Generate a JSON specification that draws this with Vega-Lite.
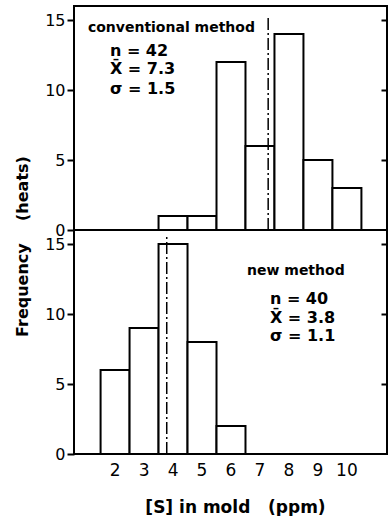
{
  "$schema": "https://vega.github.io/schema/vega-lite/v6.json",
  "background": "white",
  "padding": {"left": 13, "top": 5, "right": 0, "bottom": 0},
  "spacing": 0,
  "bounds": "flush",
  "config": {
    "view": {"stroke": "black", "strokeWidth": 2},
    "font": "DejaVu Sans",
    "axis": {"grid": false, "domain": false, "tickColor": "black", "labelColor": "black", "titleColor": "black"}
  },
  "datasets": {
    "conv": [
      {"lo": 3.5, "hi": 4.5, "n": 1},
      {"lo": 4.5, "hi": 5.5, "n": 1},
      {"lo": 5.5, "hi": 6.5, "n": 12},
      {"lo": 6.5, "hi": 7.5, "n": 6},
      {"lo": 7.5, "hi": 8.5, "n": 14},
      {"lo": 8.5, "hi": 9.5, "n": 5},
      {"lo": 9.5, "hi": 10.5, "n": 3}
    ],
    "new": [
      {"lo": 1.5, "hi": 2.5, "n": 6},
      {"lo": 2.5, "hi": 3.5, "n": 9},
      {"lo": 3.5, "hi": 4.5, "n": 15},
      {"lo": 4.5, "hi": 5.5, "n": 8},
      {"lo": 5.5, "hi": 6.5, "n": 2}
    ]
  },
  "vconcat": [
    {
      "width": 313,
      "height": 224,
      "data": {"name": "conv"},
      "resolve": {"axis": {"y": "independent"}},
      "layer": [
        {
          "mark": {"type": "bar", "fill": "white", "stroke": "black", "strokeWidth": 2, "binSpacing": 0},
          "encoding": {
            "x": {"field": "lo", "type": "quantitative", "bin": "binned", "scale": {"domain": [0.6, 11.4], "nice": false, "zero": false}, "axis": null},
            "x2": {"field": "hi"},
            "y": {"field": "n", "type": "quantitative", "scale": {"domain": [0, 16], "nice": false},
              "axis": {"orient": "left", "values": [0, 5, 10, 15], "tickSize": 7, "tickWidth": 2, "labelFontSize": 16, "labelPadding": 2,
                "title": "Frequency\u00a0\u00a0\u00a0\u00a0(heats)", "titleFontSize": 16, "titleFontWeight": "bold", "titleX": -52, "titleY": 240, "titleAlign": "center", "titleBaseline": "middle", "titleAngle": -90}}
          }
        },
        {
          "data": {"values": [{}]},
          "mark": {"type": "rule", "stroke": "black", "strokeWidth": 1.5, "strokeDash": [12, 3, 2, 3]},
          "encoding": {
            "x": {"datum": 7.3, "type": "quantitative", "axis": null},
            "y": {"datum": 0, "type": "quantitative", "axis": {"orient": "right", "values": [5, 10, 15], "labels": false, "tickSize": -6, "tickWidth": 2, "title": null}},
            "y2": {"datum": 15.3}
          }
        },
        {
          "data": {"values": [{}]},
          "mark": {"type": "text", "align": "left", "baseline": "middle", "fontSize": 14, "fontWeight": "bold"},
          "encoding": {"x": {"datum": 1.08, "type": "quantitative", "axis": null}, "y": {"datum": 14.4, "type": "quantitative", "axis": null}, "text": {"value": "conventional method"}}
        },
        {
          "data": {"values": [{}]},
          "mark": {"type": "text", "align": "left", "baseline": "middle", "fontSize": 16, "fontWeight": "bold"},
          "encoding": {"x": {"datum": 1.84, "type": "quantitative", "axis": null}, "y": {"datum": 12.8, "type": "quantitative", "axis": null}, "text": {"value": "n = 42"}}
        },
        {
          "data": {"values": [{}]},
          "mark": {"type": "text", "align": "left", "baseline": "middle", "fontSize": 16, "fontWeight": "bold"},
          "encoding": {"x": {"datum": 1.84, "type": "quantitative", "axis": null}, "y": {"datum": 11.5, "type": "quantitative", "axis": null}, "text": {"value": "X̄ = 7.3"}}
        },
        {
          "data": {"values": [{}]},
          "mark": {"type": "text", "align": "left", "baseline": "middle", "fontSize": 16, "fontWeight": "bold"},
          "encoding": {"x": {"datum": 1.84, "type": "quantitative", "axis": null}, "y": {"datum": 10.1, "type": "quantitative", "axis": null}, "text": {"value": "σ = 1.5"}}
        }
      ]
    },
    {
      "width": 313,
      "height": 224,
      "data": {"name": "new"},
      "resolve": {"axis": {"y": "independent"}},
      "layer": [
        {
          "mark": {"type": "bar", "fill": "white", "stroke": "black", "strokeWidth": 2, "binSpacing": 0},
          "encoding": {
            "x": {"field": "lo", "type": "quantitative", "bin": "binned", "scale": {"domain": [0.6, 11.4], "nice": false, "zero": false},
              "axis": {"values": [2, 3, 4, 5, 6, 7, 8, 9, 10], "ticks": false, "labelFontSize": 17, "labelPadding": 8, "labelFlush": false,
                "title": "[S] in mold\u00a0\u00a0\u00a0(ppm)", "titleFontSize": 17, "titleFontWeight": "bold", "titlePadding": 21, "titleX": 161}},
            "x2": {"field": "hi"},
            "y": {"field": "n", "type": "quantitative", "scale": {"domain": [0, 16], "nice": false},
              "axis": {"orient": "left", "values": [0, 5, 10, 15], "tickSize": 7, "tickWidth": 2, "labelFontSize": 16, "labelPadding": 2, "title": null}}
          }
        },
        {
          "data": {"values": [{}]},
          "mark": {"type": "rule", "stroke": "black", "strokeWidth": 1.5, "strokeDash": [12, 3, 2, 3]},
          "encoding": {
            "x": {"datum": 3.8, "type": "quantitative", "axis": {"values": [2, 3, 4, 5, 6, 7, 8, 9, 10], "ticks": false, "labelFontSize": 17, "labelPadding": 8, "labelFlush": false,
                "title": "[S] in mold\u00a0\u00a0\u00a0(ppm)", "titleFontSize": 17, "titleFontWeight": "bold", "titlePadding": 21, "titleX": 161}},
            "y": {"datum": 0, "type": "quantitative", "axis": {"orient": "right", "values": [5, 10, 15], "labels": false, "tickSize": -6, "tickWidth": 2, "title": null}},
            "y2": {"datum": 15.5}
          }
        },
        {
          "data": {"values": [{}]},
          "mark": {"type": "text", "align": "left", "baseline": "middle", "fontSize": 14, "fontWeight": "bold"},
          "encoding": {"x": {"datum": 6.57, "type": "quantitative", "axis": {"values": [2, 3, 4, 5, 6, 7, 8, 9, 10], "ticks": false, "labelFontSize": 17, "labelPadding": 8, "labelFlush": false,
                "title": "[S] in mold\u00a0\u00a0\u00a0(ppm)", "titleFontSize": 17, "titleFontWeight": "bold", "titlePadding": 21, "titleX": 161}}, "y": {"datum": 13.07, "type": "quantitative", "axis": null}, "text": {"value": "new method"}}
        },
        {
          "data": {"values": [{}]},
          "mark": {"type": "text", "align": "left", "baseline": "middle", "fontSize": 16, "fontWeight": "bold"},
          "encoding": {"x": {"datum": 7.36, "type": "quantitative", "axis": {"values": [2, 3, 4, 5, 6, 7, 8, 9, 10], "ticks": false, "labelFontSize": 17, "labelPadding": 8, "labelFlush": false,
                "title": "[S] in mold\u00a0\u00a0\u00a0(ppm)", "titleFontSize": 17, "titleFontWeight": "bold", "titlePadding": 21, "titleX": 161}}, "y": {"datum": 11.07, "type": "quantitative", "axis": null}, "text": {"value": "n = 40"}}
        },
        {
          "data": {"values": [{}]},
          "mark": {"type": "text", "align": "left", "baseline": "middle", "fontSize": 16, "fontWeight": "bold"},
          "encoding": {"x": {"datum": 7.36, "type": "quantitative", "axis": {"values": [2, 3, 4, 5, 6, 7, 8, 9, 10], "ticks": false, "labelFontSize": 17, "labelPadding": 8, "labelFlush": false,
                "title": "[S] in mold\u00a0\u00a0\u00a0(ppm)", "titleFontSize": 17, "titleFontWeight": "bold", "titlePadding": 21, "titleX": 161}}, "y": {"datum": 9.7, "type": "quantitative", "axis": null}, "text": {"value": "X̄ = 3.8"}}
        },
        {
          "data": {"values": [{}]},
          "mark": {"type": "text", "align": "left", "baseline": "middle", "fontSize": 16, "fontWeight": "bold"},
          "encoding": {"x": {"datum": 7.36, "type": "quantitative", "axis": {"values": [2, 3, 4, 5, 6, 7, 8, 9, 10], "ticks": false, "labelFontSize": 17, "labelPadding": 8, "labelFlush": false,
                "title": "[S] in mold\u00a0\u00a0\u00a0(ppm)", "titleFontSize": 17, "titleFontWeight": "bold", "titlePadding": 21, "titleX": 161}}, "y": {"datum": 8.43, "type": "quantitative", "axis": null}, "text": {"value": "σ = 1.1"}}
        }
      ]
    }
  ]
}
